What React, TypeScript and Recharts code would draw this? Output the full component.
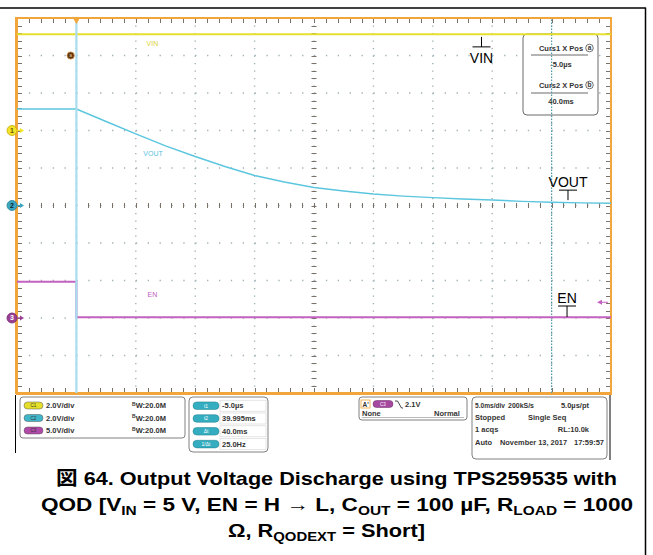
import React from "react";
import {
  ComposedChart,
  Line,
  XAxis,
  YAxis,
  ReferenceLine,
  ReferenceDot,
} from "recharts";

// time axis in ms (5 ms/div, trigger at 0), screen is -5 .. 45 ms
// vertical axis in divisions, -5 .. 5
const vinTime = [-5, 45];
const vinVolts = [5.13, 5.13];

const voutTime = [-5, 0, 2.5, 5, 7.5, 10, 12.5, 15, 17.5, 20, 22.5, 25, 27.5, 30, 32.5, 35, 37.5, 40, 42.5, 45];
const voutVolts = [5.15, 5.15, 4.48, 3.82, 3.18, 2.61, 2.08, 1.6, 1.25, 0.96, 0.77, 0.61, 0.5, 0.42, 0.35, 0.29, 0.22, 0.17, 0.14, 0.12];

const enTime = [-5, 0, 0, 45];
const enVolts = [4.85, 4.85, 0.1, 0.1];

// V/div and ground position (div) of each channel
const ch1 = { scale: 2, offset: 2 };
const ch2 = { scale: 2, offset: 0 };
const ch3 = { scale: 5, offset: -3 };

const chanRows = [
  { id: "C1", text: "2.0V/div", bw: "W:20.0M", color: "#e4df2a" },
  { id: "C2", text: "2.0V/div", bw: "W:20.0M", color: "#3fb7c9" },
  { id: "C3", text: "5.0V/div", bw: "W:20.0M", color: "#b04aa8" },
];
const cursorRows = [
  { id: "t1", text: "-5.0µs" },
  { id: "t2", text: "39.995ms" },
  { id: "Δt", text: "40.0ms" },
  { id: "1/Δt", text: "25.0Hz" },
];

const YEL = "#e6e02e";
const TEAL = "#5cc6de";
const PURP = "#c462c0";
const ORANGE = "#f2a53a";
const DOT = "#9fb1b5";
const TICK = "#7a7268";
const FONT = "'Liberation Sans', Arial, sans-serif";

// graticule geometry (same as chart margins)
const M = { top: 18, right: 42, bottom: 162, left: 17 };
const X0 = M.left, X1 = 653 - M.right, Y0 = M.top, Y1 = 555 - M.bottom;
const DX = (X1 - X0) / 10, DY = (Y1 - Y0) / 10;
const div10 = Array.from({ length: 11 }, (_, i) => i);
const div50 = Array.from({ length: 51 }, (_, i) => i);

const toData = (time: number[], volts: number[], ch: { scale: number; offset: number }) =>
  time.map((t, i) => ({ t, d: ch.offset + volts[i] / ch.scale }));

const vinData = toData(vinTime, vinVolts, ch1);
const voutData = toData(voutTime, voutVolts, ch2);
const enData = toData(enTime, enVolts, ch3);

const shape = (fn: (cx: number, cy: number) => React.ReactNode) => (p: any) => <g>{fn(p.cx, p.cy)}</g>;

const small = { fontFamily: FONT, fontWeight: 700, fontSize: 7.5, fill: "#333" } as const;

function Graticule() {
  const xm = X0 + 5 * DX, ym = Y0 + 5 * DY;
  let d = "";
  div50.forEach((i) => {
    const x = Math.round(X0 + (i * DX) / 5) + 0.5;
    const y = Math.round(Y0 + (i * DY) / 5) + 0.5;
    d += `M${x} ${Y0}v5M${x} ${Y1}v-5M${x} ${ym - 2.5}v5`;
    d += `M${X0} ${y}h5M${X1} ${y}h-5M${xm - 2.5} ${y}h5`;
  });
  return (
    <g>
      {div10.slice(1, 10).map((i) => (
        <line key={"v" + i} x1={X0 + i * DX} y1={Y0} x2={X0 + i * DX} y2={Y1} stroke={DOT} strokeWidth={1.4} strokeDasharray={`1.3 ${DY / 5 - 1.3}`} />
      ))}
      {div10.slice(1, 10).map((i) => (
        <line key={"h" + i} x1={X0} y1={Y0 + i * DY} x2={X1} y2={Y0 + i * DY} stroke={DOT} strokeWidth={1.4} strokeDasharray={`1.3 ${DX / 5 - 1.3}`} />
      ))}
      <path d={d} stroke={TICK} strokeWidth={1} fill="none" />
    </g>
  );
}

function Border() {
  return (
    <g>
      <rect x={X0} y={Y0} width={X1 - X0} height={Y1 - Y0} fill="none" stroke={ORANGE} strokeWidth={2} />
      <line x1={X0 - 1} y1={Y0 - 1} x2={X0 - 1} y2={Y1 + 1} stroke={ORANGE} strokeWidth={2} />
      <line x1={X0 - 1} y1={Y1 + 1} x2={X1 + 1} y2={Y1 + 1} stroke={ORANGE} strokeWidth={2} />
    </g>
  );
}

export default function App() {
  return (
    <div style={{ position: "absolute", left: 0, top: 0, background: "#fff" }}>
      <ComposedChart width={653} height={555} margin={M}>
        <XAxis type="number" dataKey="t" domain={[-5, 45]} hide allowDataOverflow />
        <YAxis type="number" domain={[-5, 5]} hide allowDataOverflow />

        <Graticule />

        <ReferenceLine x={40} stroke="#4e9aa6" strokeWidth={1.2} strokeDasharray="1.5 1.5" ifOverflow="visible" />

        <Line data={vinData} dataKey="d" type="linear" stroke={YEL} strokeWidth={2} dot={false} isAnimationActive={false} />
        <Line data={enData} dataKey="d" type="linear" stroke={PURP} strokeWidth={2} dot={false} isAnimationActive={false} />
        <Line data={voutData} dataKey="d" type="linear" stroke={TEAL} strokeWidth={1.5} dot={false} isAnimationActive={false} />

        {/* cursor a, drawn over the traces */}
        <ReferenceLine x={0} stroke="#a9dced" strokeWidth={2.2} ifOverflow="visible" zIndex={900} />

        <Border />

        {/* trigger position marker */}
        <ReferenceDot x={0} y={5} ifOverflow="visible" zIndex={950} shape={shape((x, y) => (
          <polygon points={`${x - 3.5},${y} ${x + 3.5},${y} ${x},${y + 6}`} fill={ORANGE} />
        ))} />
        {/* cursor a badge */}
        <ReferenceDot x={-0.48} y={4} ifOverflow="visible" shape={shape((x, y) => (
          <g>
            <circle cx={x} cy={y} r={3.6} fill="#5b3413" stroke="#d08a3a" strokeWidth={0.8} />
            <text x={x} y={y + 1.8} textAnchor="middle" fontSize={5} fontFamily={FONT} fill="#e8c890">a</text>
          </g>
        ))} />

        {/* channel ground markers */}
        {[
          { n: "1", ch: ch1, fill: "#f2e22a", edge: "#c9a800", text: "#6a5a00" },
          { n: "2", ch: ch2, fill: "#3aa6bf", edge: "#2a7f95", text: "#123" },
          { n: "3", ch: ch3, fill: "#9a3f94", edge: "#6f2a6a", text: "#fff" },
        ].map((m) => (
          <ReferenceDot key={m.n} x={-5} y={m.ch.offset} ifOverflow="visible" zIndex={950} shape={shape((x, y) => (
            <g>
              <circle cx={x - 5} cy={y} r={5} fill={m.fill} stroke={m.edge} strokeWidth={0.8} />
              <text x={x - 5} y={y + 2.3} textAnchor="middle" fontSize={7} fontWeight={700} fontFamily={FONT} fill={m.text}>{m.n}</text>
              <line x1={x} y1={y} x2={x + 4} y2={y} stroke={m.fill} strokeWidth={1.2} />
              <polygon points={`${x + 3},${y - 2.5} ${x + 7},${y} ${x + 3},${y + 2.5}`} fill={m.fill} />
            </g>
          ))} />
        ))}

        {/* trigger level marker (2.1 V on C3) */}
        <ReferenceDot x={45} y={ch3.offset + 2.1 / ch3.scale} ifOverflow="visible" shape={shape((x, y) => (
          <g>
            <polygon points={`${x - 14},${y} ${x - 9},${y - 2.5} ${x - 9},${y + 2.5}`} fill={PURP} />
            <line x1={x - 9} y1={y} x2={x - 3} y2={y} stroke={PURP} strokeWidth={1} />
          </g>
        ))} />

        {/* trace labels from the scope */}
        {[
          { s: "VIN", t: 6.4, d: 4.33, c: "#d8d23a" },
          { s: "VOUT", t: 6.45, d: 1.4, c: "#5cbfdc" },
          { s: "EN", t: 6.4, d: -2.36, c: "#c05cbc" },
        ].map((l) => (
          <ReferenceDot key={l.s} x={l.t} y={l.d} ifOverflow="visible" shape={shape((x, y) => (
            <text x={x} y={y + 2.5} textAnchor="middle" fontSize={7} fontFamily={FONT} fill={l.c}>{l.s}</text>
          ))} />
        ))}

        {/* ground-symbol annotations */}
        <ReferenceDot x={34.1} y={4.23} ifOverflow="visible" shape={shape((x, y) => (
          <g>
            <line x1={x} y1={y - 10} x2={x} y2={y} stroke="#000" strokeWidth={1} />
            <line x1={x - 9} y1={y} x2={x + 9} y2={y} stroke="#000" strokeWidth={1} />
            <text x={x} y={y + 16} textAnchor="middle" fontSize={14} fontFamily={FONT} fill="#000">VIN</text>
          </g>
        ))} />
        <ReferenceDot x={41.38} y={0.41} ifOverflow="visible" shape={shape((x, y) => (
          <g>
            <text x={x} y={y - 3} textAnchor="middle" fontSize={14} fontFamily={FONT} fill="#000">VOUT</text>
            <line x1={x - 9} y1={y} x2={x + 9} y2={y} stroke="#000" strokeWidth={1} />
            <line x1={x} y1={y} x2={x} y2={y + 10} stroke="#000" strokeWidth={1} />
          </g>
        ))} />
        <ReferenceDot x={41.3} y={-2.68} ifOverflow="visible" shape={shape((x, y) => (
          <g>
            <text x={x} y={y - 3} textAnchor="middle" fontSize={14} fontFamily={FONT} fill="#000">EN</text>
            <line x1={x - 9} y1={y} x2={x + 9} y2={y} stroke="#000" strokeWidth={1} />
            <line x1={x} y1={y} x2={x} y2={y + 11} stroke="#000" strokeWidth={1} />
          </g>
        ))} />

        {/* cursor readout */}
        <g>
          <rect x={523} y={34} width={75} height={81} rx={4} fill="#fff" stroke="#6a6a6a" strokeWidth={1} />
          <text x={561} y={50.5} textAnchor="middle" {...small}>Curs1 X Pos</text>
          <circle cx={589.5} cy={48} r={3.8} fill="none" stroke="#333" strokeWidth={0.7} />
          <text x={589.5} y={50.3} textAnchor="middle" {...small} fontSize={6.5}>a</text>
          <line x1={531} y1={55} x2={588} y2={55} stroke="#444" strokeWidth={0.8} />
          <text x={561} y={66.5} textAnchor="middle" {...small}>-5.0µs</text>
          <text x={561} y={87.5} textAnchor="middle" {...small}>Curs2 X Pos</text>
          <circle cx={589.5} cy={85} r={3.8} fill="none" stroke="#333" strokeWidth={0.7} />
          <text x={589.5} y={87.3} textAnchor="middle" {...small} fontSize={6.5}>b</text>
          <line x1={531} y1={93} x2={588} y2={93} stroke="#444" strokeWidth={0.8} />
          <text x={561} y={103.5} textAnchor="middle" {...small}>40.0ms</text>
        </g>

        {/* frame */}
        <line x1={0} y1={8} x2={645.5} y2={8} stroke="#000" strokeWidth={1.5} />
        <line x1={645.5} y1={7.5} x2={645.5} y2={555} stroke="#000" strokeWidth={1.5} />
        <line x1={15.5} y1={395} x2={15.5} y2={453} stroke="#000" strokeWidth={1} />
        <line x1={610} y1={395} x2={610} y2={460} stroke="#000" strokeWidth={1} />

        {/* channel panel */}
        <rect x={20} y={397} width={165} height={41} rx={3} fill="#fff" stroke="#808080" />
        {chanRows.map((r, i) => {
          const y = 405.5 + i * 12.5;
          return (
            <g key={r.id}>
              <rect x={24} y={y - 3.5} width={19} height={7} rx={3.5} fill={r.color} stroke="#555" strokeWidth={0.5} />
              <text x={33.5} y={y + 1.8} textAnchor="middle" fontSize={4.5} fontFamily={FONT} fill="#333">{r.id}</text>
              <text x={46} y={y + 2.6} {...small}>{r.text}</text>
              <text x={132} y={y + 2.6} {...small}>
                <tspan fontSize={5} dy={-2.5}>B</tspan>
                <tspan dy={2.5}>{r.bw}</tspan>
              </text>
            </g>
          );
        })}

        {/* cursor time panel */}
        <rect x={189} y={397} width={79} height={55} rx={4} fill="#fff" stroke="#808080" />
        {cursorRows.map((r, i) => {
          const y = 405.7 + i * 12.8;
          return (
            <g key={r.id}>
              <rect x={220} y={y - 5.5} width={46} height={11} fill="#fff" stroke="#d4d4d4" strokeWidth={0.6} />
              <rect x={193} y={y - 3.8} width={26} height={7.6} rx={3.8} fill="#33adbf" stroke="#1f7f8c" strokeWidth={0.5} />
              <text x={206} y={y + 1.8} textAnchor="middle" fontSize={5} fontFamily={FONT} fill="#fff">{r.id}</text>
              <text x={222} y={y + 2.6} {...small}>{r.text}</text>
            </g>
          );
        })}

        {/* trigger panel */}
        <rect x={359} y={397} width={108} height={23} rx={3} fill="#fff" stroke="#808080" />
        <rect x={361} y={400} width={9} height={8} fill="#fff" stroke={ORANGE} strokeWidth={0.8} />
        <text x={362.5} y={406.5} {...small} fontSize={6.5}>A'</text>
        <rect x={373} y={400.5} width={20} height={7} rx={3.5} fill="#a548a0" stroke="#6a2a66" strokeWidth={0.5} />
        <text x={383} y={406} textAnchor="middle" fontSize={4.5} fontFamily={FONT} fill="#fff">C3</text>
        <path d="M395 401 L397.5 401 L401.5 408 L403 408" fill="none" stroke="#333" strokeWidth={0.9} />
        <text x={405} y={407} {...small}>2.1V</text>
        <text x={362} y={416} {...small}>None</text>
        <text x={434} y={416} {...small}>Normal</text>
        <line x1={362} y1={417.5} x2={464} y2={417.5} stroke="#777" strokeWidth={0.5} />

        {/* timebase panel */}
        <rect x={472} y={397} width={135} height={62} rx={4} fill="#fff" stroke="#808080" />
        <text x={475} y={407.5} {...small} textLength={30} lengthAdjust="spacingAndGlyphs">5.0ms/div</text>
        <text x={508} y={407.5} {...small} textLength={26} lengthAdjust="spacingAndGlyphs">200kS/s</text>
        <text x={589} y={407.5} textAnchor="end" {...small}>5.0µs/pt</text>
        <text x={475} y={419.5} {...small}>Stopped</text>
        <text x={528} y={419.5} {...small}>Single Seq</text>
        <text x={475} y={431.5} {...small}>1 acqs</text>
        <text x={589} y={431.5} textAnchor="end" {...small}>RL:10.0k</text>
        <text x={475} y={444.5} {...small}>Auto</text>
        <text x={500} y={444.5} {...small} textLength={67} lengthAdjust="spacingAndGlyphs">November 13, 2017</text>
        <text x={604} y={444.5} textAnchor="end" {...small}>17:59:57</text>

        {/* caption */}
        <g fontFamily="'Liberation Sans', Arial, 'Noto Sans CJK JP', sans-serif" fontWeight={700} fontSize={19} fill="#000">
          <text x={336.5} y={485} textAnchor="middle" textLength={561} lengthAdjust="spacingAndGlyphs">
            図 64. Output Voltage Discharge using TPS259535 with
          </text>
          <text x={337} y={511} textAnchor="middle" textLength={592} lengthAdjust="spacingAndGlyphs">
            QOD [V<tspan fontSize={13} dy={4}>IN</tspan>
            <tspan dy={-4}> = 5 V, EN = H → L, C</tspan>
            <tspan fontSize={13} dy={4}>OUT</tspan>
            <tspan dy={-4}> = 100 µF, R</tspan>
            <tspan fontSize={13} dy={4}>LOAD</tspan>
            <tspan dy={-4}> = 1000</tspan>
          </text>
          <text x={326.5} y={537} textAnchor="middle" textLength={197} lengthAdjust="spacingAndGlyphs">
            Ω, R<tspan fontSize={13} dy={4}>QODEXT</tspan>
            <tspan dy={-4}> = Short]</tspan>
          </text>
        </g>
      </ComposedChart>
    </div>
  );
}
